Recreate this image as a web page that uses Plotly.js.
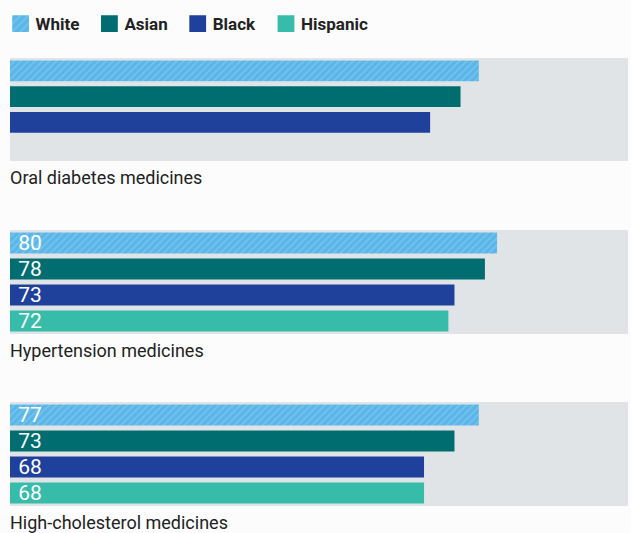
<!DOCTYPE html>
<html>
<head>
<meta charset="utf-8">
<script src="https://cdn.plot.ly/plotly-3.0.1.min.js"></script>
<style>html,body{margin:0;padding:0;background:#fcfcfc;}</style>
</head>
<body>
<div id="chart" style="width:631px;height:533px;"></div>
<script>
// ---- data ----
const categories = ['Oral diabetes medicines', 'Hypertension medicines', 'High-cholesterol medicines'];
const races = ['White', 'Asian', 'Black', 'Hispanic'];
const white = [77, 80, 77];
const asian = [74, 78, 73];
const black = [69, 73, 68];
const hispanic = [null, 72, 68];
const showValues = [false, true, true];

// ---- styles ----
const seriesValues = [white, asian, black, hispanic];
const colors = ['#5bb6e8', '#006e70', '#1f419b', '#37bcaa'];
const labelFont = 'Roboto, "Liberation Sans", sans-serif';
const domains = [[0.78316, 1], [0.41895, 0.63789], [0.05684, 0.27579]];

const traces = [];
races.forEach((race, r) => {
  categories.forEach((cat, g) => {
    const v = seriesValues[r][g];
    const suffix = g === 0 ? '' : String(g + 1);
    const marker = {color: colors[r], line: {width: 0}};
    if (r === 0) {
      marker.pattern = {shape: '/', fillmode: 'overlay', bgcolor: colors[0], fgcolor: '#8fd1f3', size: 5, solidity: 0.3};
    }
    traces.push({
      type: 'bar',
      orientation: 'h',
      name: race,
      legendgroup: race,
      showlegend: g === 0,
      x: [v],
      y: [race],
      xaxis: 'x' + suffix,
      yaxis: 'y' + suffix,
      marker: marker,
      text: [showValues[g] && v !== null ? '\u00a0' + v : ''],
      textposition: 'inside',
      insidetextanchor: 'start',
      constraintext: 'none',
      textfont: {color: '#ffffff', size: 21, family: labelFont},
      hoverinfo: 'name+x'
    });
  });
});

const layout = {
  width: 631,
  height: 533,
  margin: {l: 10, r: 3, t: 58, b: 0, autoexpand: false},
  paper_bgcolor: '#fcfcfc',
  plot_bgcolor: '#e1e4e7',
  barmode: 'overlay',
  showlegend: true,
  legend: {
    orientation: 'h',
    x: -0.0233, xanchor: 'left',
    y: 1.0337, yanchor: 'bottom',
    font: {family: 'Roboto, "Liberation Sans", sans-serif', size: 17, weight: 'bold', color: '#222222'},
    bgcolor: 'rgba(0,0,0,0)',
    traceorder: 'normal'
  },
  annotations: categories.map((cat, g) => ({
    text: cat,
    xref: 'paper', x: 0, xanchor: 'left', xshift: -2,
    yref: 'y' + (g === 0 ? '' : String(g + 1)) + ' domain', y: 0, yanchor: 'top', yshift: -4,
    showarrow: false,
    font: {family: labelFont, size: 18, color: '#222222'}
  }))
};

categories.forEach((cat, g) => {
  const suffix = g === 0 ? '' : String(g + 1);
  layout['xaxis' + suffix] = {
    domain: [0, 1], range: [0, 101.5], visible: false, fixedrange: true,
    anchor: 'y' + suffix
  };
  layout['yaxis' + suffix] = {
    domain: domains[g], type: 'category', categoryorder: 'array', categoryarray: races,
    range: [3.5, -0.5], visible: false, fixedrange: true, anchor: 'x' + suffix
  };
});

Plotly.newPlot('chart', traces, layout, {displayModeBar: false, responsive: false}).then(gd => {
  // enlarge legend swatches to match the reference's bigger squares
  gd.querySelectorAll('.legendpoints path').forEach(p => {
    const t = p.getAttribute('transform') || '';
    p.setAttribute('transform', t + ' translate(5,0) scale(1.4)');
  });
});
</script>
</body>
</html>
